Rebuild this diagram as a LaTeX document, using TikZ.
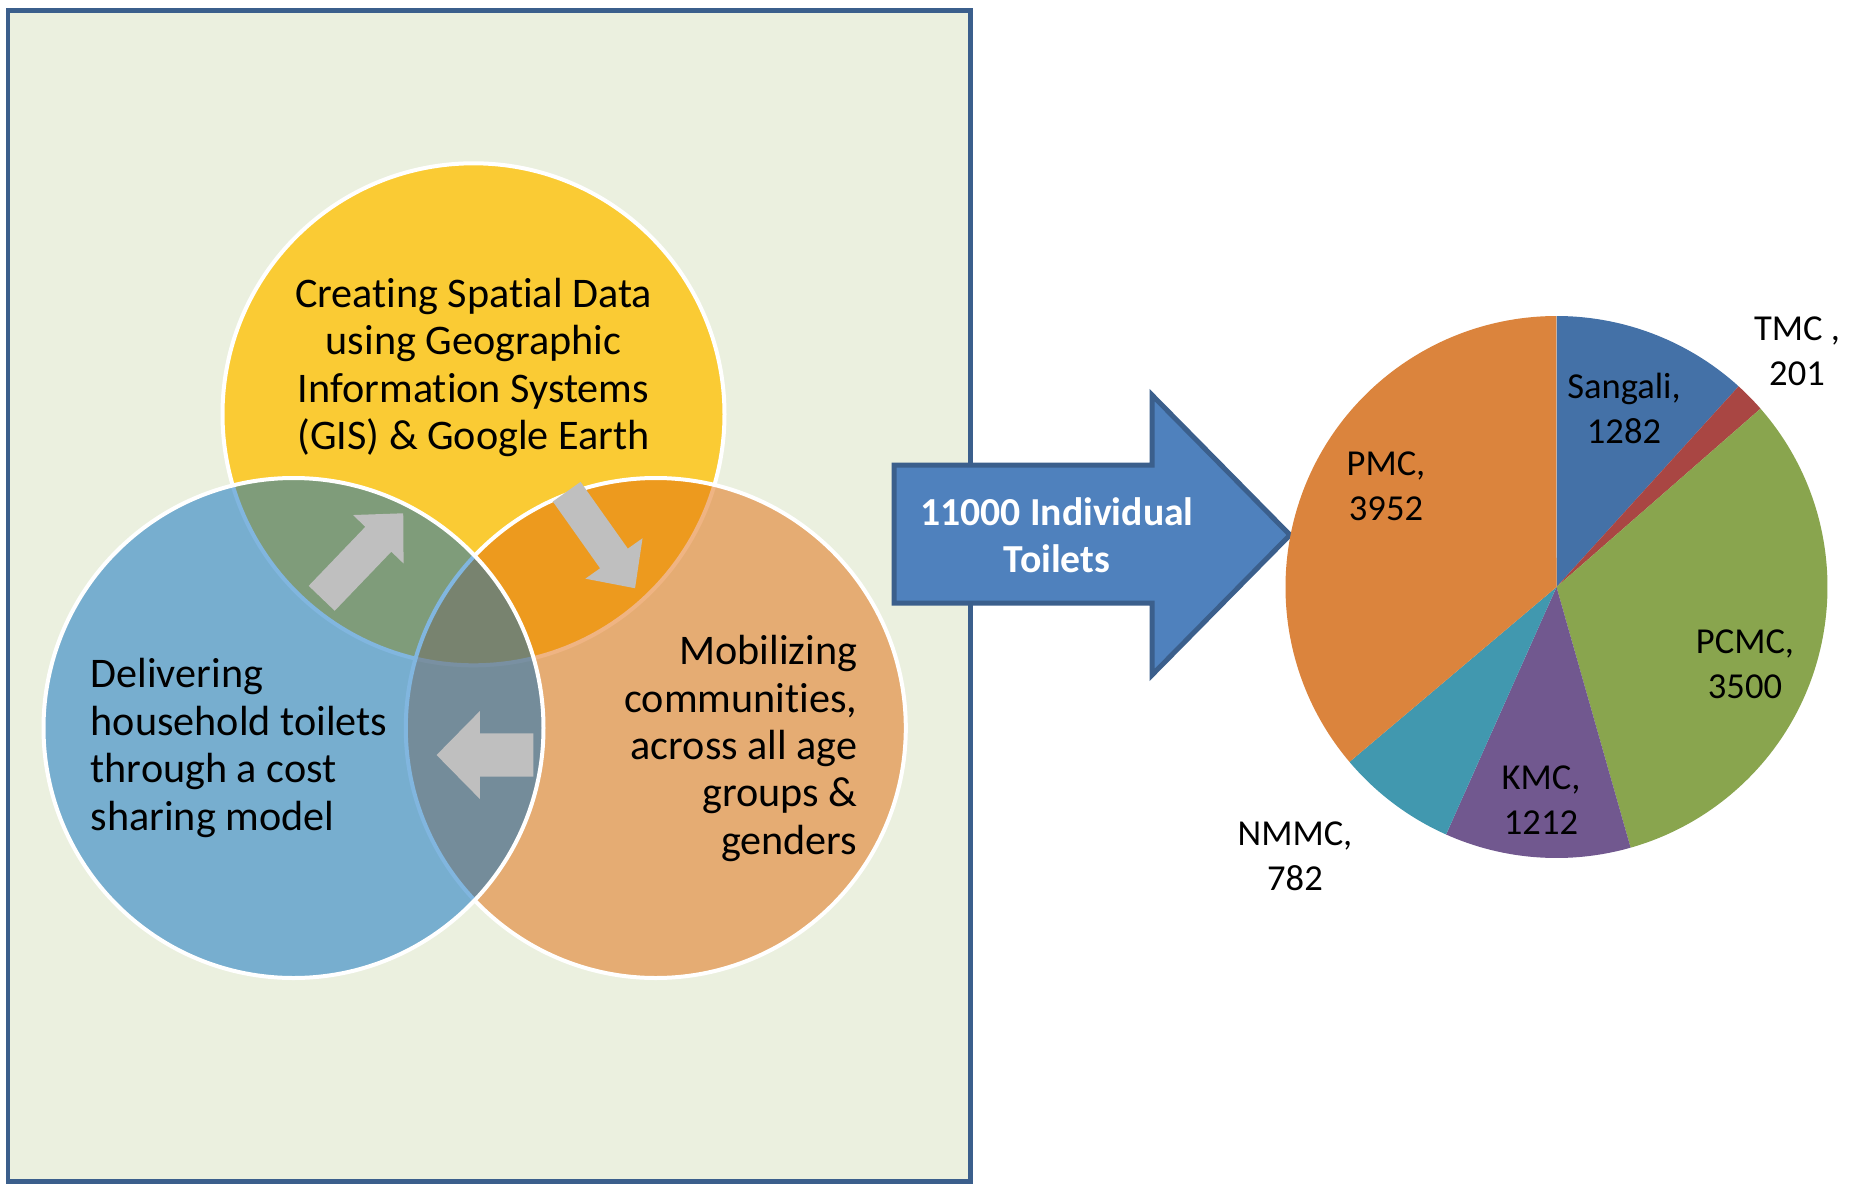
\documentclass[tikz,border=0pt]{standalone}
\usepackage{fontspec}
\setmainfont{Carlito}[Ligatures=CommonOff]

\definecolor{panelfill}{HTML}{EBF0DF}
\definecolor{panelline}{HTML}{3B5F8C}
\definecolor{vennyellow}{HTML}{FACB34}
\definecolor{vennorange}{HTML}{E16A09}
\definecolor{vennblue}{HTML}{056EC1}
\definecolor{arrowgrey}{HTML}{BFBFBF}
\definecolor{bigarrow}{HTML}{4F81BD}
\definecolor{bigarrowline}{HTML}{3B5F8C}
\definecolor{pieSangali}{HTML}{4471A7}
\definecolor{pieTMC}{HTML}{A94643}
\definecolor{piePCMC}{HTML}{89A54E}
\definecolor{pieKMC}{HTML}{71588F}
\definecolor{pieNMMC}{HTML}{4198AF}
\definecolor{piePMC}{HTML}{DB843D}

\begin{document}
\begin{tikzpicture}[x=0.1mm,y=-0.1mm,
  venn/.style={draw=white, line width=0.4mm},
  vtext/.style={font=\fontsize{12}{13.5}\selectfont, align=center, inner sep=0pt},
  plabel/.style={font=\fontsize{10.4}{12.8}\selectfont, align=center, inner sep=0pt}]

\useasboundingbox (0,0) rectangle (1856,1185);
\fill[white] (0,0) rectangle (1856,1185);

\def\greyarrow#1#2#3#4#5#6{
  \fill[arrowgrey, shift={#1}, rotate=#2]
    (0,-#4) -- (#3-#6,-#4) -- (#3-#6,-#5) -- (#3,0)
    -- (#3-#6,#5) -- (#3-#6,#4) -- (0,#4) -- cycle;
}

\filldraw[fill=panelfill, draw=panelline, line width=0.5mm] (8,10) rectangle (970,1181);

\filldraw[venn, fill=vennyellow] (473.5,414.3) circle[radius=251];
\filldraw[venn, fill=vennorange, fill opacity=0.5] (655.8,728) circle[radius=250];
\filldraw[venn, fill=vennblue, fill opacity=0.5] (293.5,728) circle[radius=250];

\greyarrow{(321.7,598.3)}{46.2}{117.8}{18}{35}{36}
\greyarrow{(566.7,491.7)}{-54.7}{118.3}{17}{35}{36.5}
\greyarrow{(533.3,755)}{180}{96.7}{21.7}{44}{43.3}

\node[vtext] (gis) at (473.5,367.5)
  {Creating Spatial Data\\using Geographic\\Information Systems\\(GIS) \& Google Earth};
\node[vtext, align=left, anchor=west] (deliver) at (90,748)
  {Delivering\\household toilets\\through a cost\\sharing model};
\node[vtext, align=right, anchor=east] (mobilize) at (858,748.5)
  {Mobilizing\\communities,\\across all age\\groups \&\\genders};

\filldraw[fill=bigarrow, draw=bigarrowline, line width=0.5mm]
  (894,465) -- (1152,465) -- (1152,395) -- (1290,535)
  -- (1152,675) -- (1152,603) -- (894,603) -- cycle;
\node[text=white, font=\fontsize{11.3}{13.4}\selectfont\bfseries, align=center, inner sep=0pt]
  (total) at (1057,535) {11000 Individual\\Toilets};

\coordinate (pie) at (1556.5,587);
\def\pa{-90}
\foreach \v/\c in {1282/pieSangali, 201/pieTMC, 3500/piePCMC, 1212/pieKMC, 782/pieNMMC, 3952/piePMC} {
  \pgfmathsetmacro{\pb}{\pa+\v/10929*360}
  \fill[\c] (pie) -- ++(\pa:271) arc[start angle=\pa, end angle=\pb, radius=271] -- cycle;
  \global\let\pa\pb
}

\foreach \n/\t/\x/\y in {sangali/{Sangali,\\1282}/1624/408, tmc/{TMC ,\\201}/1797/351,
    pcmc/{PCMC,\\3500}/1745/664, kmc/{KMC,\\1212}/1541/800,
    nmmc/{NMMC,\\782}/1295/856, pmc/{PMC,\\3952}/1386/486}
  \node[plabel] (\n) at (\x,\y) {\t};

\end{tikzpicture}
\end{document}
